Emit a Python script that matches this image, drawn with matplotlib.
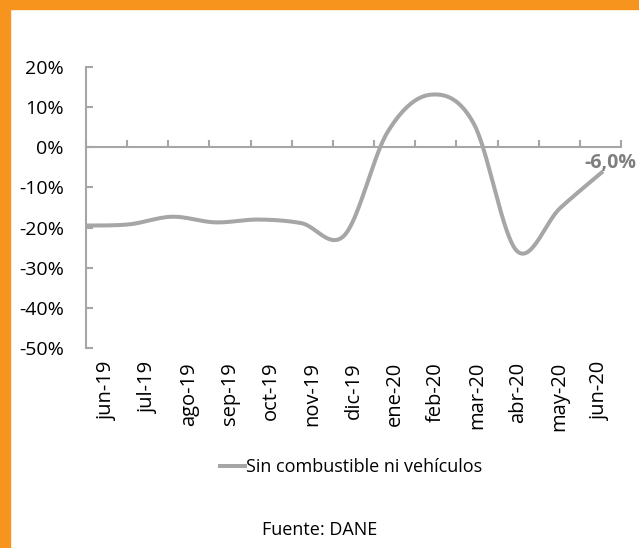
import numpy as np
import matplotlib
matplotlib.use("Agg")
import matplotlib.pyplot as plt
from matplotlib.lines import Line2D
from matplotlib.patches import Rectangle
from matplotlib.ticker import FuncFormatter, FixedLocator

plt.rcParams['font.family'] = ['Open Sans', 'DejaVu Sans']

# ---- data ----
categories = ["jun-19", "jul-19", "ago-19", "sep-19", "oct-19", "nov-19", "dic-19",
              "ene-20", "feb-20", "mar-20", "abr-20", "may-20", "jun-20"]
values = [-19.5, -19.2, -17.3, -18.7, -18.0, -18.9, -21.9, 3.8, 13.1, 5.9, -25.8, -15.2, -6.0]
series_name = "Sin combustible ni vehículos"
yticks = [20, 10, 0, -10, -20, -30, -40, -50]
source = "Fuente: DANE"

line_color = "#A6A6A6"
axis_color = "#A6A6A6"
orange = "#F7941D"

W, H = 639, 548
fig = plt.figure(figsize=(W / 100, H / 100), dpi=100)

# orange frame
fig.patches.append(Rectangle((0, 0), 10 / W, 1, transform=fig.transFigure, color=orange, zorder=0))
fig.patches.append(Rectangle((0, 1 - 9 / H), 1, 9 / H, transform=fig.transFigure, color=orange, zorder=0))

left, right, top, bottom = 86, 621, 67, 348
ax = fig.add_axes([left / W, 1 - bottom / H, (right - left) / W, (bottom - top) / H])
ax.set_facecolor("none")
n = len(categories)
ax.set_xlim(-0.5, n - 0.5)
ax.set_ylim(min(yticks), max(yticks))

# y axis
ax.set_yticks(yticks)
ax.yaxis.set_major_formatter(FuncFormatter(lambda v, p: f"{v:.0f}%"))
ax.tick_params(axis='y', direction='in', length=5, width=1.5, color=axis_color,
               labelsize=14, pad=16, labelcolor="black")
for s in ["top", "right"]:
    ax.spines[s].set_visible(False)
ax.spines["left"].set_color(axis_color)
ax.spines["left"].set_linewidth(1.5)
ax.spines["bottom"].set_position(("data", 0))
ax.spines["bottom"].set_color(axis_color)
ax.spines["bottom"].set_linewidth(1.5)

# category boundary ticks on the zero line
ax.xaxis.set_major_locator(FixedLocator(np.arange(n + 1) - 0.5))
ax.tick_params(axis='x', direction='in', length=5, width=1.5, color=axis_color, labelbottom=False)

# category labels at the bottom
sec = ax.secondary_xaxis(0.0)
sec.set_xticks(np.arange(n))
sec.set_xticklabels(categories, rotation=90, fontsize=14.5)
sec.tick_params(length=0, pad=10)
sec.spines["bottom"].set_visible(False)

# smoothed line (Excel-like Bezier smoothing)
def smooth(xs, ys, m=40):
    pts = np.column_stack([xs, ys]).astype(float)
    out = []
    for i in range(len(pts) - 1):
        p0 = pts[i - 1] if i > 0 else pts[i]
        p1, p2 = pts[i], pts[i + 1]
        p3 = pts[i + 2] if i + 2 < len(pts) else pts[i + 1]
        c1 = p1 + (p2 - p0) / 6
        c2 = p2 - (p3 - p1) / 6
        t = np.linspace(0, 1, m)[:, None]
        seg = (1 - t) ** 3 * p1 + 3 * (1 - t) ** 2 * t * c1 + 3 * (1 - t) * t ** 2 * c2 + t ** 3 * p2
        out.append(seg if i == 0 else seg[1:])
    return np.vstack(out)

ax2 = ax.twiny()
ax2.set_xlim(0, (n - 1) / ((603 - left) / (right - left)))
ax2.set_ylim(ax.get_ylim())
ax2.axis("off")
xi = np.arange(n)
curve = smooth(xi, values)
ax2.plot(curve[:, 0], curve[:, 1], color=line_color, lw=2.9, solid_capstyle="butt", clip_on=False)

# data label for last point
lbl = f"{values[-1]:.1f}%".replace(".", ",")
ax2.annotate(lbl, (xi[-1], values[-1]), xytext=(5, -1), textcoords="offset points",
             ha="center", va="bottom", fontsize=14, fontweight="bold", color="#7F7F7F",
             annotation_clip=False)

# legend
handle = Line2D([0], [0], color=line_color, lw=2.9)
fig.legend([handle], [series_name], loc="center", bbox_to_anchor=(351 / W, 1 - 467 / H),
           frameon=False, fontsize=13, handlelength=1.4, handletextpad=0.05)

fig.text(320 / W, 1 - 530 / H, source, ha="center", va="center", fontsize=13)

fig.savefig("out.png", dpi=100)
